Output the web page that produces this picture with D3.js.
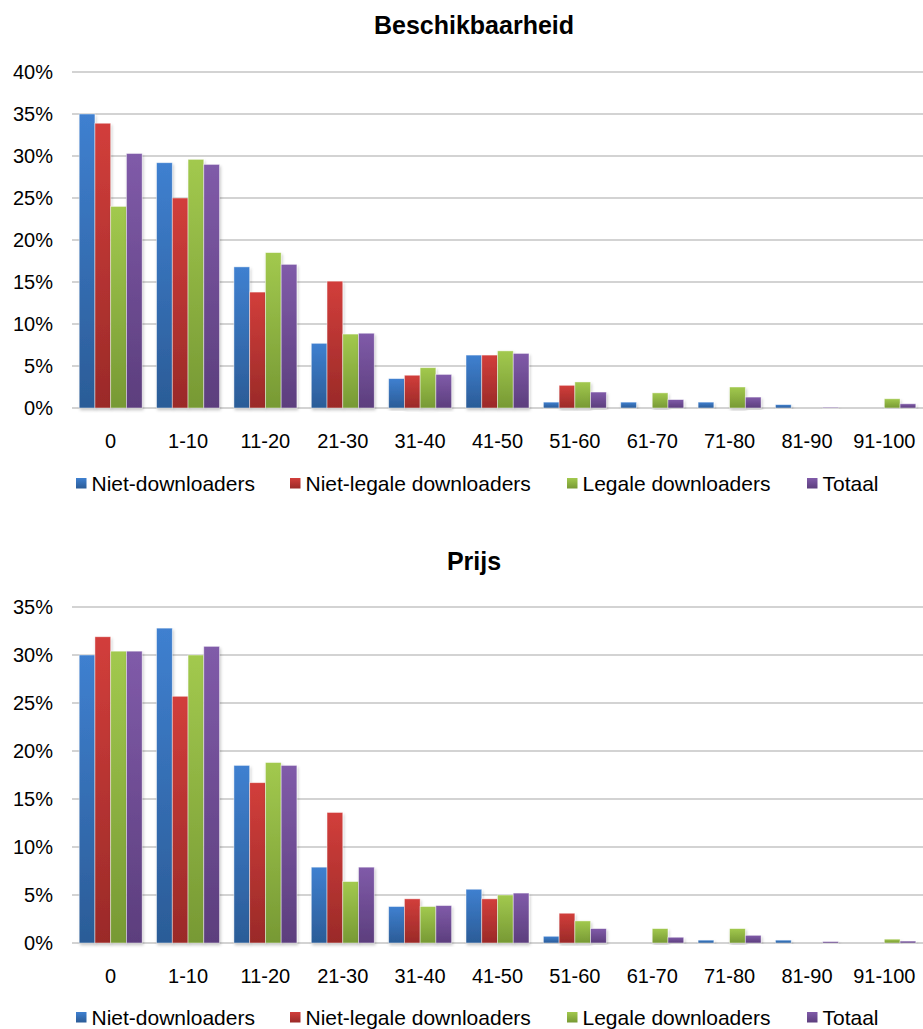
<!DOCTYPE html>
<html>
<head>
<meta charset="utf-8">
<title>Beschikbaarheid / Prijs</title>
<style>
    body { margin: 0; background: #fff; }
    svg text { font-family: "Liberation Sans", Arial, sans-serif; fill: #000; }
</style>
</head>
<body>
<svg id="chart" width="923" height="1029"></svg>
<script src="https://cdn.jsdelivr.net/npm/d3@7"></script>
<script>
// categories and series
var categories = ['0', '1-10', '11-20', '21-30', '31-40', '41-50', '51-60', '61-70', '71-80', '81-90', '91-100'];
var seriesNames = ['Niet-downloaders', 'Niet-legale downloaders', 'Legale downloaders', 'Totaal'];

// Beschikbaarheid (percent)
var beschikNiet       = [35.0, 29.2, 16.8, 7.7, 3.5, 6.3, 0.7, 0.7, 0.7, 0.4, 0];
var beschikNietLegaal = [33.9, 25.0, 13.8, 15.1, 3.9, 6.3, 2.7, 0, 0, 0, 0];
var beschikLegaal     = [24.0, 29.6, 18.5, 8.8, 4.8, 6.8, 3.1, 1.8, 2.5, 0, 1.1];
var beschikTotaal     = [30.3, 29.0, 17.1, 8.9, 4.0, 6.5, 1.9, 1.0, 1.3, 0.1, 0.5];

// Prijs (percent)
var prijsNiet       = [30.0, 32.8, 18.5, 7.9, 3.8, 5.6, 0.7, 0, 0.3, 0.3, 0];
var prijsNietLegaal = [31.9, 25.7, 16.7, 13.6, 4.6, 4.6, 3.1, 0, 0, 0, 0];
var prijsLegaal     = [30.4, 30.0, 18.8, 6.4, 3.8, 5.0, 2.3, 1.5, 1.5, 0, 0.4];
var prijsTotaal     = [30.4, 30.9, 18.5, 7.9, 3.9, 5.2, 1.5, 0.6, 0.8, 0.15, 0.2];

var ticksBeschik = [0, 5, 10, 15, 20, 25, 30, 35, 40];
var ticksPrijs   = [0, 5, 10, 15, 20, 25, 30, 35];

var colorsTop    = ['#3f80d0', '#d23e3b', '#a2c94e', '#805ba9'];
var colorsBottom = ['#2b5c97', '#9a2a28', '#779934', '#5c3e7d'];

var svg = d3.select('#chart');
var defs = svg.append('defs');

seriesNames.forEach(function(s, i) {
    var g = defs.append('linearGradient').attr('id', 'grad' + i)
        .attr('x1', 0).attr('y1', 0).attr('x2', 0).attr('y2', 1);
    g.append('stop').attr('offset', '0%').attr('stop-color', colorsTop[i]);
    g.append('stop').attr('offset', '100%').attr('stop-color', colorsBottom[i]);
});

var shadow = defs.append('filter').attr('id', 'shadow')
    .attr('x', '-20%').attr('y', '-5%').attr('width', '150%').attr('height', '115%');
shadow.append('feDropShadow').attr('dx', 1).attr('dy', 2).attr('stdDeviation', 1.5)
    .attr('flood-color', '#000').attr('flood-opacity', 0.22);

var left = 72, right = 923;

function drawChart(cfg) {
    var g = svg.append('g');

    var x0 = d3.scaleBand().domain(categories).range([left, right])
        .paddingInner(0.186).paddingOuter(0.093);
    var x1 = d3.scaleBand().domain(d3.range(seriesNames.length)).range([0, x0.bandwidth()]);
    var y = d3.scaleLinear().domain([0, cfg.yMax]).range([cfg.bottom, cfg.top]);

    g.append('text')
        .attr('x', 474).attr('y', cfg.titleY)
        .attr('text-anchor', 'middle').attr('dominant-baseline', 'central')
        .style('font-size', '25px').style('font-weight', 'bold')
        .text(cfg.title);

    // gridlines
    g.selectAll('line.grid').data(cfg.ticks).enter().append('line')
        .attr('class', 'grid')
        .attr('x1', left).attr('x2', right)
        .attr('y1', function(d) { return y(d); })
        .attr('y2', function(d) { return y(d); })
        .attr('stroke', '#c4c4c4').attr('stroke-width', 1.5);

    g.selectAll('text.ytick').data(cfg.ticks).enter().append('text')
        .attr('class', 'ytick')
        .attr('x', 53).attr('y', function(d) { return y(d); })
        .attr('text-anchor', 'end').attr('dominant-baseline', 'central')
        .style('font-size', '20px')
        .text(function(d) { return d + '%'; });

    var groups = g.selectAll('g.cat').data(categories).enter().append('g')
        .attr('class', 'cat')
        .attr('transform', function(d) { return 'translate(' + x0(d) + ',0)'; });

    groups.selectAll('rect').data(function(d, ci) {
        return cfg.series.map(function(arr, si) { return {si: si, v: arr[ci]}; });
    }).enter().append('rect')
        .filter(function(d) { return d.v > 0; })
        .attr('x', function(d) { return x1(d.si); })
        .attr('width', x1.bandwidth())
        .attr('y', function(d) { return y(d.v); })
        .attr('height', function(d) { return cfg.bottom - y(d.v); })
        .attr('fill', function(d) { return 'url(#grad' + d.si + ')'; })
        .attr('stroke', 'rgba(255,255,255,0.55)').attr('stroke-width', 0.8)
        .attr('filter', 'url(#shadow)');

    g.selectAll('text.xtick').data(categories).enter().append('text')
        .attr('class', 'xtick')
        .attr('x', function(d) { return x0(d) + x0.bandwidth() / 2; })
        .attr('y', cfg.bottom + 33)
        .attr('text-anchor', 'middle').attr('dominant-baseline', 'central')
        .style('font-size', '20px')
        .text(function(d) { return d; });

    // legend
    var legendX = [76, 290, 567, 807];
    var lg = g.selectAll('g.legend').data(seriesNames).enter().append('g')
        .attr('class', 'legend')
        .attr('transform', function(d, i) { return 'translate(' + legendX[i] + ',' + cfg.legendY + ')'; });
    lg.append('rect').attr('x', 0).attr('y', -5).attr('width', 10.5).attr('height', 10.5)
        .attr('fill', function(d, i) { return 'url(#grad' + i + ')'; });
    lg.append('text').attr('x', 15.5).attr('y', 0)
        .attr('dominant-baseline', 'central')
        .style('font-size', '21px')
        .text(function(d) { return d; });
}

drawChart({
    title: 'Beschikbaarheid', titleY: 25,
    top: 72, bottom: 408, yMax: 40, ticks: ticksBeschik,
    series: [beschikNiet, beschikNietLegaal, beschikLegaal, beschikTotaal],
    legendY: 483
});

drawChart({
    title: 'Prijs', titleY: 561,
    top: 607, bottom: 943, yMax: 35, ticks: ticksPrijs,
    series: [prijsNiet, prijsNietLegaal, prijsLegaal, prijsTotaal],
    legendY: 1017
});
</script>
</body>
</html>
